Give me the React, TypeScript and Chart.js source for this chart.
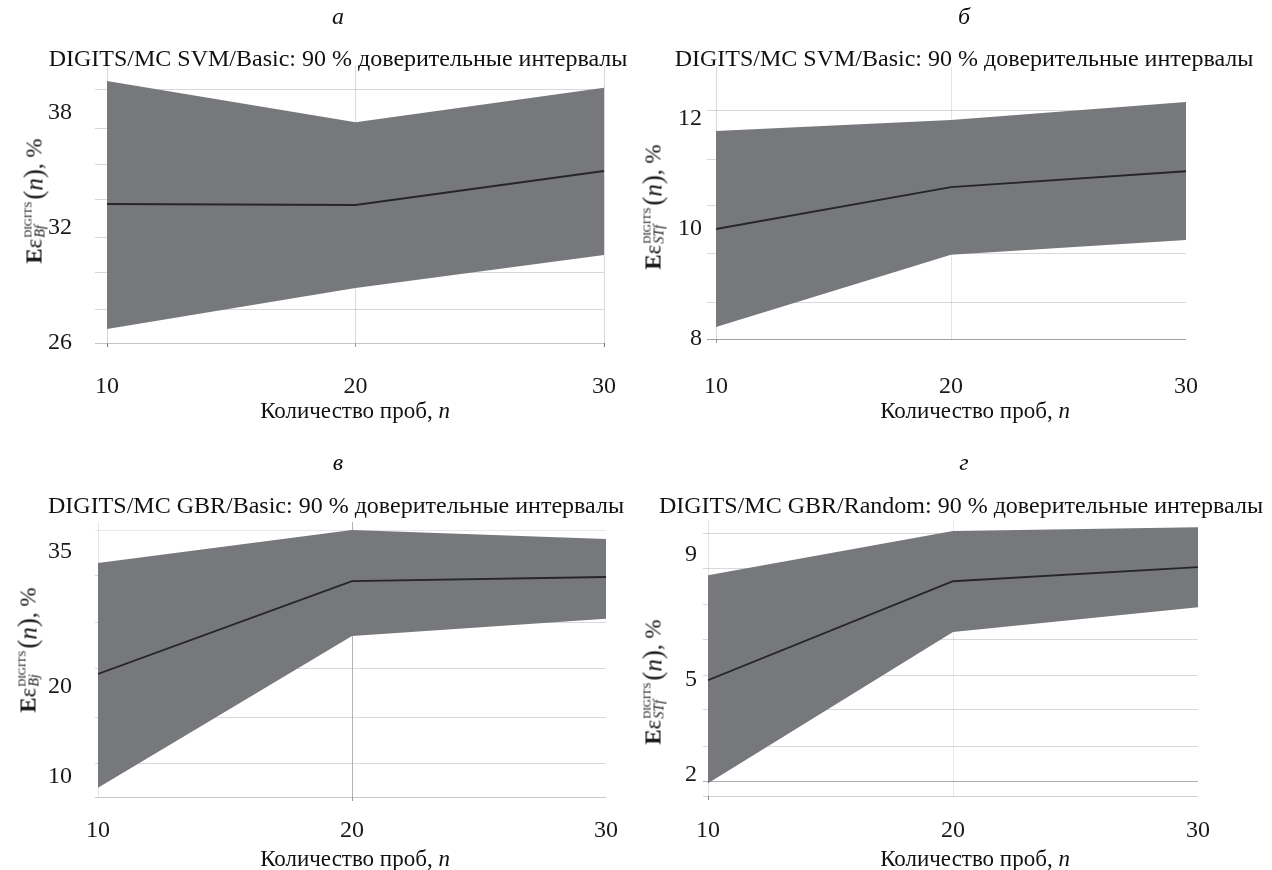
import React, { useEffect, useRef } from 'react';
import { Chart, registerables } from 'chart.js';

Chart.register(...registerables);

// ---------- data ----------
const nTrials = [10, 20, 30];

// а: DIGITS/MC SVM/Basic
const aUpper = [39.65, 37.5, 39.3];
const aMean = [33.24, 33.19, 34.96];
const aLower = [26.73, 28.86, 30.58];
const aTickLabels = [26, 32, 38];

// б: DIGITS/MC SVM/Basic (ST)
const bUpper = [11.78, 11.98, 12.31];
const bMean = [10.0, 10.76, 11.05];
const bLower = [8.22, 9.53, 9.8];
const bTickLabels = [8, 10, 12];

// в: DIGITS/MC GBR/Basic
const vUpper = [33.7, 37.37, 36.37];
const vMean = [21.37, 31.7, 32.15];
const vLower = [8.73, 25.6, 27.5];
const vTickLabels = [10, 20, 35];

// г: DIGITS/MC GBR/Random
const gUpper = [8.34, 9.75, 9.87];
const gMean = [5.0, 8.15, 8.6];
const gLower = [1.72, 6.53, 7.32];
const gTickLabels = [2, 5, 9];

// ---------- axis grid configuration ----------
const aGridValues = [26, 27.72, 29.65, 31.52, 33.45, 35.32, 37.2, 39.18];
const bGridValues = [8, 8.67, 9.55, 10.42, 11.27, 12.15];
const vGridValues = [7.7, 11.37, 16.59, 21.93, 27.04, 32.26, 37.37];
const gGridValues = [1.31, 1.78, 2.9, 4.05, 5.16, 6.31, 7.42, 8.54, 9.68];

const SERIF = '"Liberation Serif", "DejaVu Serif", serif';
const BAND = '#77787c';
const LINE = '#262626';
const GRID = 'rgba(165,165,172,0.42)';
const NONE = 'rgba(0,0,0,0)';
const TICK_FONT = 24;

type Box = { left: number; top: number; width: number; height: number };
type Area = { left: number; right: number; top: number; bottom: number };

interface PanelCfg {
  upper: number[];
  mean: number[];
  lower: number[];
  tickLabels: number[];
  gridValues: number[];
  gridColors: string[];
  yMin: number;
  yMax: number;
  canvas: Box;
  area: Area;
  yTickLen: number;
  yPad: number;
  xPad: number;
  xGridColors: string[];
  xTickColors: string[];
}

const panels: PanelCfg[] = [
  {
    upper: aUpper, mean: aMean, lower: aLower,
    tickLabels: aTickLabels, gridValues: aGridValues,
    gridColors: ['rgba(150,150,155,0.55)', GRID, GRID, GRID, GRID, GRID, GRID, GRID],
    yMin: 26, yMax: 40.43,
    canvas: { left: 0, top: 20, width: 660, height: 400 },
    area: { left: 107, right: 604, top: 66, bottom: 343 },
    yTickLen: 12, yPad: 23, xPad: 25,
    xGridColors: [GRID, GRID, GRID],
    xTickColors: ['#777', '#999', '#777'],
  },
  {
    upper: bUpper, mean: bMean, lower: bLower,
    tickLabels: bTickLabels, gridValues: bGridValues,
    gridColors: ['rgba(120,120,125,0.7)', GRID, GRID, GRID, GRID, GRID],
    yMin: 8, yMax: 12.945,
    canvas: { left: 630, top: 20, width: 640, height: 400 },
    area: { left: 716, right: 1186, top: 67, bottom: 339 },
    yTickLen: 9, yPad: 5, xPad: 29,
    xGridColors: [GRID, 'rgba(165,165,172,0.3)', NONE],
    xTickColors: ['#999', NONE, NONE],
  },
  {
    upper: vUpper, mean: vMean, lower: vLower,
    tickLabels: vTickLabels, gridValues: vGridValues,
    gridColors: ['rgba(150,150,155,0.5)', GRID, GRID, GRID, GRID, GRID, 'rgba(165,165,172,0.25)'],
    yMin: 7.7, yMax: 38.26,
    canvas: { left: 0, top: 470, width: 660, height: 400 },
    area: { left: 98, right: 606, top: 522, bottom: 797 },
    yTickLen: 3, yPad: 23, xPad: 15,
    xGridColors: ['rgba(165,165,172,0.3)', 'rgba(130,130,135,0.6)', NONE],
    xTickColors: [NONE, '#999', NONE],
  },
  {
    upper: gUpper, mean: gMean, lower: gLower,
    tickLabels: gTickLabels, gridValues: gGridValues,
    gridColors: ['rgba(150,150,155,0.45)', 'rgba(130,130,135,0.65)', GRID, GRID, GRID, GRID, GRID, GRID, GRID],
    yMin: 1.31, yMax: 10.1,
    canvas: { left: 630, top: 470, width: 640, height: 400 },
    area: { left: 708, right: 1198, top: 520, bottom: 796 },
    yTickLen: 5, yPad: 6, xPad: 16,
    xGridColors: ['rgba(165,165,172,0.3)', 'rgba(165,165,172,0.25)', NONE],
    xTickColors: ['#888', NONE, NONE],
  },
];

const X_AXIS_H = 70;

function Panel({ cfg }: { cfg: PanelCfg }) {
  const ref = useRef<HTMLCanvasElement | null>(null);
  useEffect(() => {
    const el = ref.current;
    if (!el) return;
    const { canvas, area } = cfg;
    const yWidth = area.left - canvas.left;
    const pts = (arr: number[]) => nTrials.map((n, i) => ({ x: n, y: arr[i] }));
    const yTickValues = Array.from(new Set([...cfg.gridValues, ...cfg.tickLabels])).sort((p, q) => p - q);
    const chart = new Chart(el, {
      type: 'line',
      data: {
        datasets: [
          // mean line first so it is painted on top of the band
          { data: pts(cfg.mean), borderWidth: 1.8, borderColor: LINE, pointRadius: 0, fill: false, tension: 0 },
          { data: pts(cfg.lower), borderWidth: 0, borderColor: NONE, pointRadius: 0, fill: false, tension: 0 },
          { data: pts(cfg.upper), borderWidth: 0, borderColor: NONE, pointRadius: 0, fill: '-1', backgroundColor: BAND, tension: 0 },
        ],
      },
      options: {
        animation: false,
        responsive: false,
        devicePixelRatio: 1,
        events: [],
        layout: {
          padding: {
            left: 0,
            top: area.top - canvas.top,
            right: canvas.left + canvas.width - area.right,
            bottom: canvas.top + canvas.height - area.bottom - X_AXIS_H,
          },
        },
        plugins: { legend: { display: false }, tooltip: { enabled: false }, title: { display: false } },
        scales: {
          x: {
            type: 'linear',
            min: 10,
            max: 30,
            z: 1,
            afterFit: (s: any) => { s.height = X_AXIS_H; },
            afterBuildTicks: (s: any) => { s.ticks = nTrials.map((v) => ({ value: v })); },
            border: { display: false },
            grid: {
              color: (c: any) => cfg.xGridColors[c.index] ?? NONE,
              tickColor: (c: any) => cfg.xTickColors[c.index] ?? NONE,
              tickLength: 4,
              lineWidth: 1,
            },
            ticks: {
              autoSkip: false,
              maxRotation: 0,
              padding: cfg.xPad,
              color: '#1a1a1a',
              font: { family: SERIF, size: TICK_FONT },
              callback: (v: any) => String(v),
            },
          },
          y: {
            type: 'linear',
            min: cfg.yMin,
            max: cfg.yMax,
            z: 1,
            afterFit: (s: any) => { s.width = yWidth; },
            afterBuildTicks: (s: any) => { s.ticks = yTickValues.map((v) => ({ value: v })); },
            border: { display: false },
            grid: {
              color: (c: any) => {
                const i = cfg.gridValues.indexOf(c.tick?.value);
                return i >= 0 ? cfg.gridColors[i] : NONE;
              },
              tickLength: cfg.yTickLen,
              lineWidth: 1,
            },
            ticks: {
              autoSkip: false,
              padding: cfg.yPad,
              color: '#1a1a1a',
              font: { family: SERIF, size: TICK_FONT },
              callback: (v: any) => (cfg.tickLabels.includes(v) ? String(v) : ''),
            },
          },
        },
      },
    } as any);
    return () => chart.destroy();
  }, [cfg]);
  const { canvas } = cfg;
  return (
    <canvas
      ref={ref}
      width={canvas.width}
      height={canvas.height}
      style={{ position: 'absolute', left: canvas.left, top: canvas.top, width: canvas.width, height: canvas.height }}
    />
  );
}

function Txt({ cx, baseline, size, italic, children }: { cx: number; baseline: number; size: number; italic?: boolean; children: React.ReactNode }) {
  return (
    <div
      style={{
        position: 'absolute',
        left: cx,
        top: baseline - 0.8375 * size,
        transform: 'translateX(-50%)',
        fontFamily: SERIF,
        fontSize: size,
        lineHeight: 1,
        fontStyle: italic ? 'italic' : 'normal',
        whiteSpace: 'nowrap',
        color: '#111',
      }}
    >
      {children}
    </div>
  );
}

function YTitle({ cx, cy, sub }: { cx: number; cy: number; sub: string }) {
  return (
    <div
      style={{
        position: 'absolute',
        left: cx,
        top: cy,
        transform: 'translate(-50%, -50%) rotate(-90deg)',
        fontFamily: SERIF,
        fontSize: 23,
        lineHeight: 1,
        whiteSpace: 'nowrap',
        color: '#111',
        display: 'flex',
        alignItems: 'center',
      }}
    >
      <span style={{ fontWeight: 'bold' }}>E</span>
      <span>ε</span>
      <span style={{ display: 'inline-flex', flexDirection: 'column', lineHeight: 1, marginLeft: 1, marginTop: 2 }}>
        <span style={{ fontSize: 11 }}>DIGITS</span>
        <span style={{ fontSize: 14, fontStyle: 'italic' }}>{sub}</span>
      </span>
      <span style={{ fontSize: 27, marginLeft: 2 }}>(</span>
      <span style={{ fontStyle: 'italic', fontSize: 25 }}>n</span>
      <span style={{ fontSize: 27 }}>)</span>
      <span>,&nbsp;%</span>
    </div>
  );
}

const XTitle = () => (
  <>
    Количество проб, <i>n</i>
  </>
);

export default function App() {
  return (
    <div style={{ position: 'absolute', left: 0, top: 0, width: 1272, height: 870, background: '#fff', overflow: 'hidden' }}>
      {panels.map((p, i) => (
        <Panel key={i} cfg={p} />
      ))}

      <Txt cx={338} baseline={24} size={24} italic>а</Txt>
      <Txt cx={964} baseline={24} size={24} italic>б</Txt>
      <Txt cx={338} baseline={470} size={24} italic>в</Txt>
      <Txt cx={964} baseline={470} size={24} italic>г</Txt>

      <Txt cx={338} baseline={66} size={24}>DIGITS/MC SVM/Basic: 90 % доверительные интервалы</Txt>
      <Txt cx={964} baseline={66} size={24}>DIGITS/MC SVM/Basic: 90 % доверительные интервалы</Txt>
      <Txt cx={336} baseline={513} size={24}>DIGITS/MC GBR/Basic: 90 % доверительные интервалы</Txt>
      <Txt cx={961} baseline={513} size={24}>DIGITS/MC GBR/Random: 90 % доверительные интервалы</Txt>

      <Txt cx={355} baseline={418} size={23}><XTitle /></Txt>
      <Txt cx={975} baseline={418} size={23}><XTitle /></Txt>
      <Txt cx={355} baseline={866} size={23}><XTitle /></Txt>
      <Txt cx={975} baseline={866} size={23}><XTitle /></Txt>

      <YTitle cx={34} cy={201} sub="Bf" />
      <YTitle cx={653} cy={207} sub="STf" />
      <YTitle cx={28} cy={650} sub="Bj" />
      <YTitle cx={653} cy={682} sub="STf" />
    </div>
  );
}
